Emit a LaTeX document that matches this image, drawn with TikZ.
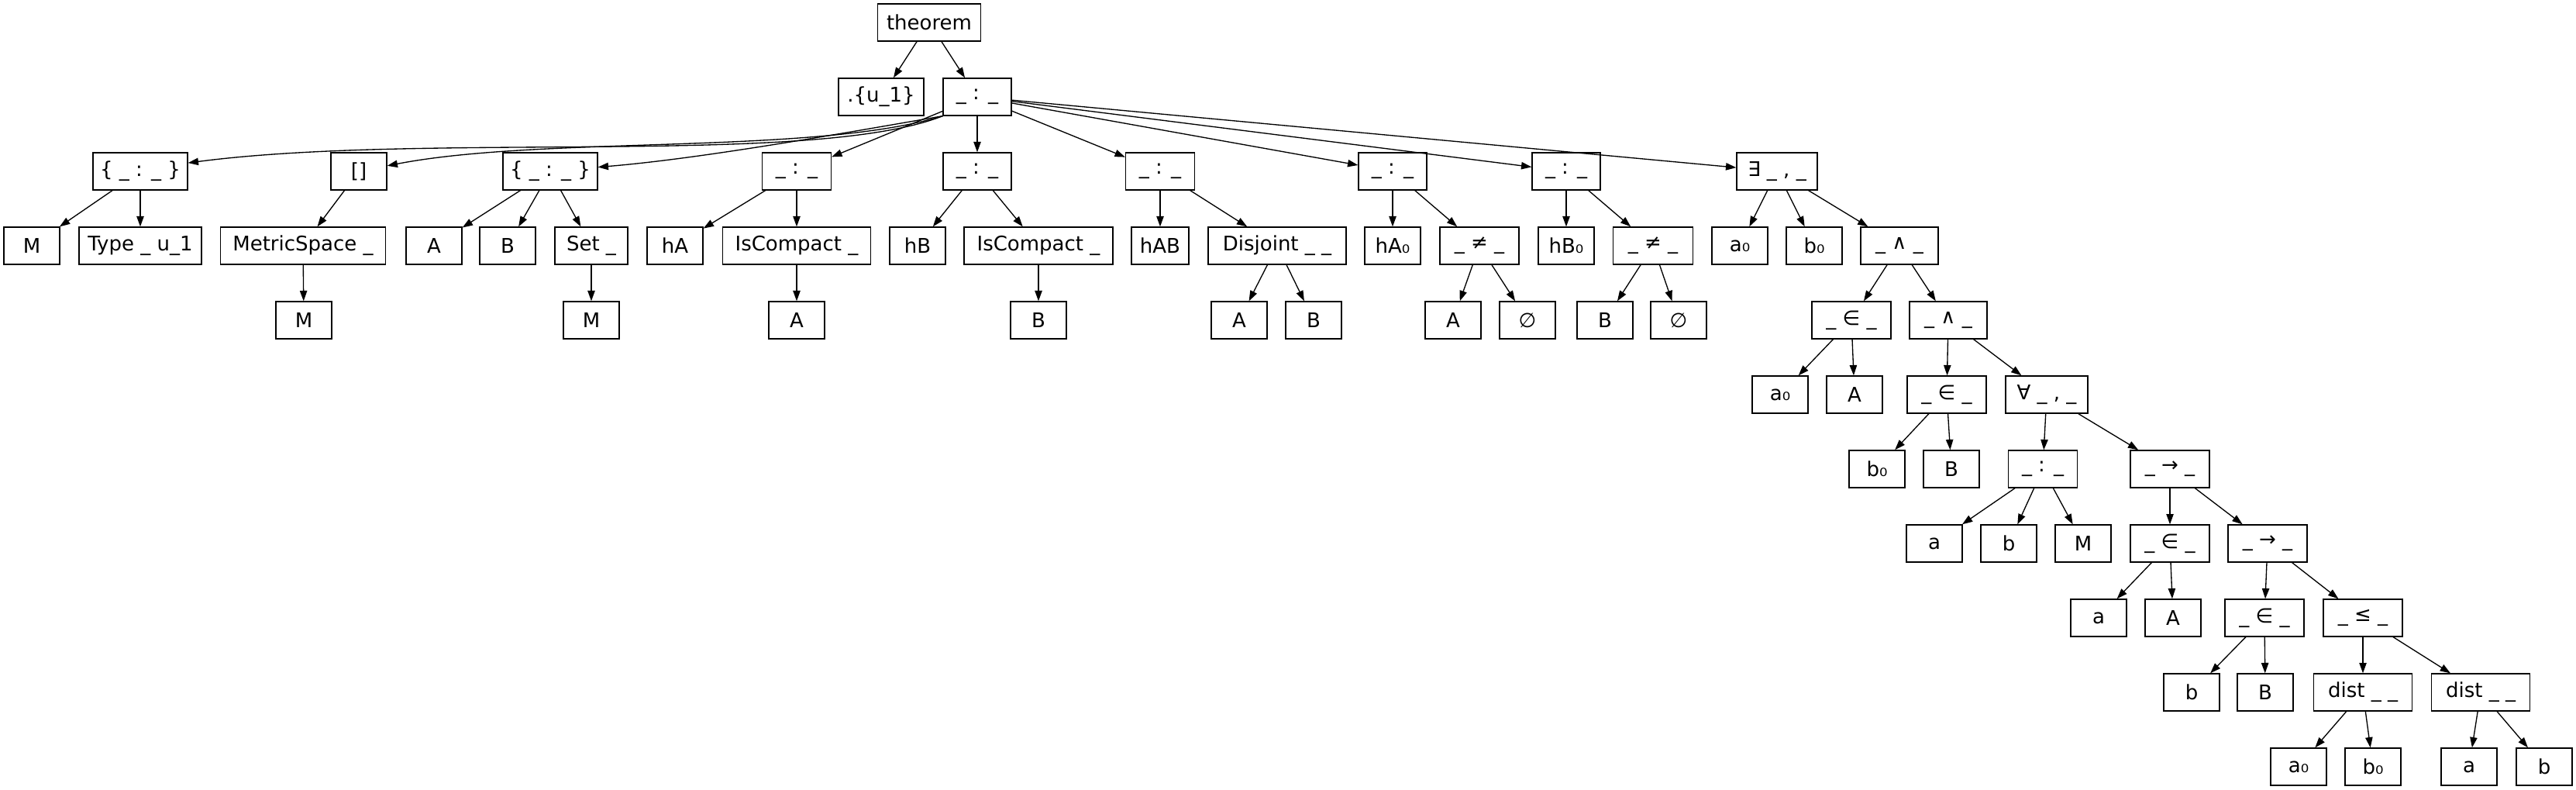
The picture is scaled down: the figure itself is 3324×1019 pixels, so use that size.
\documentclass[tikz,border=0pt]{standalone}
\usepackage{fontspec}
\setmainfont{DejaVu Sans}
\usetikzlibrary{arrows.meta}

\begin{document}
\begin{tikzpicture}[
    x=0.75pt, y=-0.75pt,
    term/.style={draw, line width=1pt, minimum width=54pt, minimum height=36pt, inner xsep=2pt, font=\fontsize{19.5}{22}\selectfont},
    wd/.style={minimum width=#1*0.75pt},
    arrow/.style={-{Triangle[length=10pt, width=7pt]}, line width=1pt}
]
\useasboundingbox (0,0) rectangle (3324,1019);

% Top
\node[term, wd=133] (thm) at (1199,29) {theorem};
\node[term, wd=110] (univ) at (1137,125) {.\{u\_1\}};
\node[term, wd=88] (root) at (1261,125) {\_ : \_};

% Binders and hypotheses
\node[term, wd=122] (setM) at (181,221) {\{ \_ : \_ \}};
\node[term] (inst) at (463,221) {[]};
\node[term, wd=122] (setAB) at (710,221) {\{ \_ : \_ \}};
\node[term, wd=89] (hypA) at (1028,221) {\_ : \_};
\node[term, wd=88] (hypB) at (1261,221) {\_ : \_};
\node[term, wd=89] (hypAB) at (1497,221) {\_ : \_};
\node[term, wd=88] (hypAz) at (1797,221) {\_ : \_};
\node[term, wd=88] (hypBz) at (2021,221) {\_ : \_};
\node[term, wd=104] (ex) at (2293,221) {∃ \_ , \_};

% Third row
\node[term] (Mone) at (41,317) {M};
\node[term, wd=158] (typeU) at (181,317) {Type \_ u\_1};
\node[term, wd=213] (metric) at (391,317) {MetricSpace \_};
\node[term] (Aone) at (560,317) {A};
\node[term] (Bone) at (655,317) {B};
\node[term, wd=94] (setOf) at (763,317) {Set \_};
\node[term] (hA) at (871,317) {hA};
\node[term, wd=191] (cpctA) at (1028,317) {IsCompact \_};
\node[term] (hB) at (1184,317) {hB};
\node[term, wd=192] (cpctB) at (1340,317) {IsCompact \_};
\node[term, wd=74] (hAB) at (1497,317) {hAB};
\node[term, wd=178] (disj) at (1648,317) {Disjoint \_ \_};
\node[term] (hAz) at (1797,317) {hA₀};
\node[term, wd=102] (neA) at (1909,317) {\_ ≠ \_};
\node[term] (hBz) at (2021,317) {hB₀};
\node[term, wd=103] (neB) at (2133,317) {\_ ≠ \_};
\node[term] (az) at (2245,317) {a₀};
\node[term] (bz) at (2341,317) {b₀};
\node[term, wd=100] (andA) at (2451,317) {\_ ∧ \_};

% Fourth row
\node[term] (Mtwo) at (392,413) {M};
\node[term] (Mthree) at (763,413) {M};
\node[term] (Atwo) at (1028,413) {A};
\node[term] (Btwo) at (1340,413) {B};
\node[term] (Athree) at (1599,413) {A};
\node[term] (Bthree) at (1695,413) {B};
\node[term] (Afour) at (1875,413) {A};
\node[term] (emptyA) at (1971,413) {∅};
\node[term] (Bfour) at (2071,413) {B};
\node[term] (emptyB) at (2166,413) {∅};
\node[term, wd=102] (memA) at (2389,413) {\_ ∈ \_};
\node[term, wd=100] (andB) at (2514,413) {\_ ∧ \_};

% Body of the statement
\node[term] (azA) at (2297,509) {a₀};
\node[term] (Afive) at (2393,509) {A};
\node[term, wd=102] (memB) at (2512,509) {\_ ∈ \_};
\node[term, wd=106] (all) at (2641,509) {∀ \_ , \_};

\node[term] (bzB) at (2422,605) {b₀};
\node[term] (Bfive) at (2518,605) {B};
\node[term, wd=89] (typAB) at (2636,605) {\_ : \_};
\node[term, wd=102] (impA) at (2800,605) {\_ → \_};

\node[term] (aone) at (2496,701) {a};
\node[term] (bone) at (2592,701) {b};
\node[term] (Mfour) at (2688,701) {M};
\node[term, wd=102] (mema) at (2800,701) {\_ ∈ \_};
\node[term, wd=102] (impB) at (2926,701) {\_ → \_};

\node[term] (atwo) at (2708,797) {a};
\node[term] (Asix) at (2804,797) {A};
\node[term, wd=102] (memb) at (2922,797) {\_ ∈ \_};
\node[term, wd=102] (le) at (3049,797) {\_ ≤ \_};

\node[term] (btwo) at (2828,893) {b};
\node[term] (Bsix) at (2923,893) {B};
\node[term, wd=127] (distz) at (3049,893) {dist \_ \_};
\node[term, wd=127] (distab) at (3201,893) {dist \_ \_};

\node[term] (azC) at (2966,989) {a₀};
\node[term] (bzC) at (3062,989) {b₀};
\node[term] (athree) at (3186,989) {a};
\node[term] (bthree) at (3283,989) {b};

% Edges from the top
\draw[arrow] (thm) -- (univ);
\draw[arrow] (thm) -- (root);
\draw[arrow] (root.south west) .. controls (1050,215) and (550,170) .. (setM.10);
\draw[arrow] (root.south west) .. controls (1050,200) and (700,175) .. (inst.11);
\draw[arrow] (root.south west) .. controls (1070,175) and (900,205) .. (setAB.5);
\draw[arrow] (root) -- (hypA);
\draw[arrow] (root) -- (hypB);
\draw[arrow] (root) -- (hypAB);
\draw[arrow] (root) -- (hypAz);
\draw[arrow] (root) -- (hypBz);
\draw[arrow] (root) -- (ex);

% Edges, left part
\draw[arrow] (setM) -- (Mone);
\draw[arrow] (setM) -- (typeU);
\draw[arrow] (inst) -- (metric);
\draw[arrow] (metric) -- (Mtwo);
\draw[arrow] (setAB) -- (Aone);
\draw[arrow] (setAB) -- (Bone);
\draw[arrow] (setAB) -- (setOf);
\draw[arrow] (setOf) -- (Mthree);
\draw[arrow] (hypA) -- (hA);
\draw[arrow] (hypA) -- (cpctA);
\draw[arrow] (cpctA) -- (Atwo);
\draw[arrow] (hypB) -- (hB);
\draw[arrow] (hypB) -- (cpctB);
\draw[arrow] (cpctB) -- (Btwo);
\draw[arrow] (hypAB) -- (hAB);
\draw[arrow] (hypAB) -- (disj);
\draw[arrow] (disj) -- (Athree);
\draw[arrow] (disj) -- (Bthree);
\draw[arrow] (hypAz) -- (hAz);
\draw[arrow] (hypAz) -- (neA);
\draw[arrow] (neA) -- (Afour);
\draw[arrow] (neA) -- (emptyA);
\draw[arrow] (hypBz) -- (hBz);
\draw[arrow] (hypBz) -- (neB);
\draw[arrow] (neB) -- (Bfour);
\draw[arrow] (neB) -- (emptyB);

% Edges, right part
\draw[arrow] (ex) -- (az);
\draw[arrow] (ex) -- (bz);
\draw[arrow] (ex) -- (andA);
\draw[arrow] (andA) -- (memA);
\draw[arrow] (andA) -- (andB);
\draw[arrow] (memA) -- (azA);
\draw[arrow] (memA) -- (Afive);
\draw[arrow] (andB) -- (memB);
\draw[arrow] (andB) -- (all);
\draw[arrow] (memB) -- (bzB);
\draw[arrow] (memB) -- (Bfive);
\draw[arrow] (all) -- (typAB);
\draw[arrow] (all) -- (impA);
\draw[arrow] (typAB) -- (aone);
\draw[arrow] (typAB) -- (bone);
\draw[arrow] (typAB) -- (Mfour);
\draw[arrow] (impA) -- (mema);
\draw[arrow] (impA) -- (impB);
\draw[arrow] (mema) -- (atwo);
\draw[arrow] (mema) -- (Asix);
\draw[arrow] (impB) -- (memb);
\draw[arrow] (impB) -- (le);
\draw[arrow] (memb) -- (btwo);
\draw[arrow] (memb) -- (Bsix);
\draw[arrow] (le) -- (distz);
\draw[arrow] (le) -- (distab);
\draw[arrow] (distz) -- (azC);
\draw[arrow] (distz) -- (bzC);
\draw[arrow] (distab) -- (athree);
\draw[arrow] (distab) -- (bthree);
\end{tikzpicture}
\end{document}
